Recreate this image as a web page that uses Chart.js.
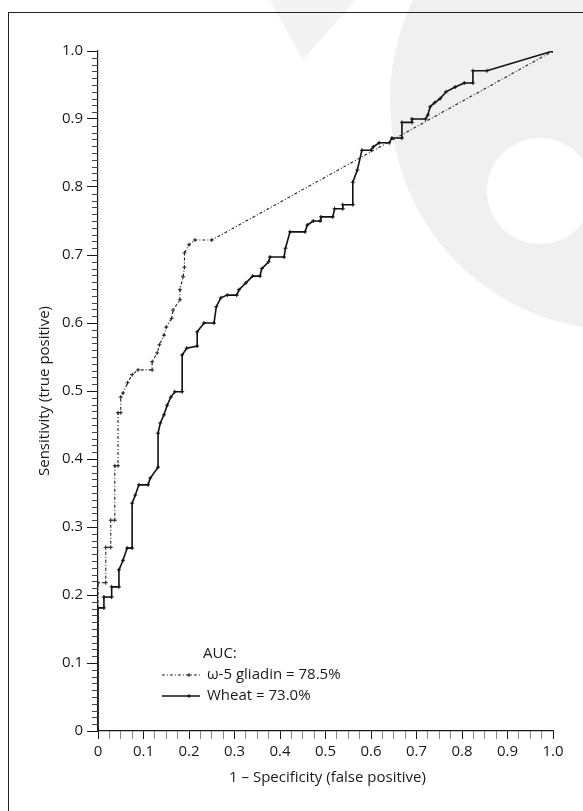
<!DOCTYPE html>
<html>
<head>
<meta charset="utf-8">
<script src="https://cdn.jsdelivr.net/npm/chart.js@4/dist/chart.umd.min.js"></script>
<style>
  html, body { margin: 0; padding: 0; background: #fff; }
  #wrap { position: relative; width: 583px; height: 811px; overflow: hidden; }
  .shade { position: absolute; background: #f0f0f0; }
  #frame { position: absolute; left: 8px; top: 12px; width: 620px; height: 840px;
           border-left: 1.5px solid #222; border-top: 1.5px solid #222; }
  canvas { position: absolute; left: 0; top: 0; }
</style>
</head>
<body>
<div id="wrap">
  <!-- grey stipple left over from the scan -->
  <div class="shade" style="left:390px;top:-130px;width:460px;height:460px;border-radius:50%;"></div>
  <div class="shade" style="left:487px;top:138px;width:106px;height:106px;border-radius:50%;background:#fff;"></div>
  <div class="shade" style="left:270px;top:0;width:86px;height:60px;clip-path:polygon(0 0,100% 0,38% 100%);background:#f3f3f3;"></div>
  <div id="frame"></div>
  <canvas id="chart" width="583" height="811"></canvas>
</div>
<script>
// ROC points (1 - specificity, sensitivity)
const gliadinFpr = [0, 0, 0.017, 0.017, 0.028, 0.028, 0.037, 0.037, 0.044, 0.044, 0.05, 0.05, 0.055, 0.065, 0.075, 0.088, 0.119, 0.119, 0.13, 0.135, 0.145, 0.15, 0.162, 0.165, 0.18, 0.18, 0.187, 0.19, 0.19, 0.2, 0.213, 0.25, 1.0];
const gliadinTpr = [0, 0.218, 0.218, 0.27, 0.27, 0.31, 0.31, 0.39, 0.39, 0.468, 0.468, 0.491, 0.497, 0.512, 0.524, 0.531, 0.531, 0.543, 0.556, 0.568, 0.582, 0.594, 0.607, 0.619, 0.634, 0.649, 0.668, 0.682, 0.703, 0.715, 0.722, 0.722, 1.0];

const wheatFpr = [0, 0, 0.013, 0.013, 0.03, 0.03, 0.046, 0.046, 0.055, 0.064, 0.075, 0.075, 0.082, 0.09, 0.11, 0.115, 0.132, 0.132, 0.137, 0.145, 0.152, 0.16, 0.169, 0.185, 0.185, 0.195, 0.218, 0.218, 0.233, 0.255, 0.26, 0.27, 0.284, 0.305, 0.31, 0.325, 0.34, 0.356, 0.36, 0.375, 0.378, 0.409, 0.412, 0.422, 0.455, 0.46, 0.473, 0.488, 0.49, 0.516, 0.52, 0.538, 0.538, 0.56, 0.56, 0.57, 0.58, 0.6, 0.605, 0.618, 0.64, 0.646, 0.668, 0.668, 0.69, 0.69, 0.72, 0.725, 0.73, 0.74, 0.752, 0.765, 0.785, 0.805, 0.824, 0.824, 0.855, 1.0];
const wheatTpr = [0, 0.181, 0.181, 0.197, 0.197, 0.212, 0.212, 0.237, 0.251, 0.269, 0.269, 0.335, 0.347, 0.362, 0.362, 0.372, 0.388, 0.438, 0.453, 0.465, 0.479, 0.491, 0.499, 0.499, 0.553, 0.563, 0.566, 0.587, 0.6, 0.6, 0.624, 0.637, 0.641, 0.641, 0.649, 0.659, 0.669, 0.669, 0.68, 0.69, 0.697, 0.697, 0.71, 0.734, 0.734, 0.744, 0.75, 0.75, 0.756, 0.756, 0.768, 0.768, 0.774, 0.774, 0.807, 0.825, 0.854, 0.854, 0.859, 0.865, 0.865, 0.872, 0.872, 0.895, 0.895, 0.9, 0.9, 0.906, 0.918, 0.924, 0.93, 0.94, 0.947, 0.953, 0.953, 0.971, 0.971, 1.0];

const seriesNames = ['ω-5 gliadin', 'Wheat'];
const aucValues = [78.5, 73.0];
const legendTitle = 'AUC:';

const xTickLabels = ['0', '0.1', '0.2', '0.3', '0.4', '0.5', '0.6', '0.7', '0.8', '0.9', '1.0'];
const yTickLabels = ['0', '0.1', '0.2', '0.3', '0.4', '0.5', '0.6', '0.7', '0.8', '0.9', '1.0'];
const xTitle = '1 – Specificity (false positive)';
const yTitle = 'Sensitivity (true positive)';

const FONT = '"Open Sans", "DejaVu Sans", sans-serif';
const FONT_SIZE = 15;
const INK = '#1a1a1a';

function toPoints(xs, ys) {
  return xs.map((v, i) => ({ x: v, y: ys[i] }));
}

function isMajor(v) {
  return Math.abs(v * 10 - Math.round(v * 10)) < 1e-6;
}

// minor ticks on y, axis titles and the AUC legend
const extras = {
  id: 'extras',
  afterDraw(chart) {
    const { ctx, scales: { x, y } } = chart;
    ctx.save();

    ctx.strokeStyle = '#444';
    ctx.lineWidth = 1;
    for (let i = 1; i < 100; i++) {
      if (i % 10 === 0) continue;
      const py = Math.round(y.getPixelForValue(i / 100)) + 0.5;
      ctx.beginPath();
      ctx.moveTo(x.left - 6, py);
      ctx.lineTo(x.left, py);
      ctx.stroke();
    }

    ctx.fillStyle = INK;
    ctx.font = FONT_SIZE + 'px ' + FONT;
    ctx.textAlign = 'center';
    ctx.textBaseline = 'middle';
    ctx.fillText(xTitle, (x.left + x.right) / 2 + 2, 778);

    ctx.save();
    ctx.translate(45, (y.top + y.bottom) / 2);
    ctx.rotate(-Math.PI / 2);
    ctx.fillText(yTitle, 0, 0);
    ctx.restore();

    // legend
    ctx.textAlign = 'left';
    ctx.fillText(legendTitle, 203, 654);
    chart.data.datasets.forEach((ds, i) => {
      const ly = 675 + i * 21;
      ctx.save();
      ctx.strokeStyle = ds.borderColor;
      ctx.lineWidth = ds.borderWidth;
      ctx.setLineDash(ds.borderDash || []);
      ctx.beginPath();
      ctx.moveTo(162, ly);
      ctx.lineTo(200, ly);
      ctx.stroke();
      ctx.setLineDash([]);
      const mx = 189;
      ctx.lineWidth = 1;
      ctx.beginPath();
      ctx.moveTo(mx - 2, ly); ctx.lineTo(mx + 2, ly);
      ctx.moveTo(mx, ly - 2); ctx.lineTo(mx, ly + 2);
      ctx.stroke();
      ctx.restore();
      ctx.fillText(`${seriesNames[i]} = ${aucValues[i].toFixed(1)}%`, 207, ly);
    });

    ctx.restore();
  }
};

const ctx = document.getElementById('chart').getContext('2d');
new Chart(ctx, {
  type: 'scatter',
  data: {
    datasets: [
      {
        label: seriesNames[0],
        data: toPoints(gliadinFpr, gliadinTpr),
        showLine: true,
        borderColor: '#222',
        borderWidth: 1.1,
        borderDash: [3, 2, 1, 2],
        pointStyle: 'cross',
        pointRadius: 2,
        pointBorderWidth: 1,
        pointBorderColor: '#222'
      },
      {
        label: seriesNames[1],
        data: toPoints(wheatFpr, wheatTpr),
        showLine: true,
        borderColor: '#111',
        borderWidth: 1.6,
        pointStyle: 'cross',
        pointRadius: 2,
        pointBorderWidth: 1,
        pointBorderColor: '#111'
      }
    ]
  },
  options: {
    responsive: false,
    devicePixelRatio: 1,
    animation: false,
    layout: { padding: { left: 0, top: 51, right: 30, bottom: 0 } },
    plugins: { legend: { display: false }, tooltip: { enabled: false } },
    scales: {
      x: {
        type: 'linear',
        min: 0,
        max: 1,
        afterFit: (s) => { s.height = 80; },
        border: { color: INK, width: 1.2 },
        grid: {
          drawOnChartArea: false,
          tickLength: 8,
          tickColor: (c) => isMajor(c.tick.value) ? INK : '#888'
        },
        ticks: {
          stepSize: 0.025,
          autoSkip: false,
          maxTicksLimit: 100,
          maxRotation: 0,
          padding: 4,
          color: INK,
          font: { family: FONT, size: FONT_SIZE },
          callback: (v) => isMajor(v) ? xTickLabels[Math.round(v * 10)] : ''
        }
      },
      y: {
        type: 'linear',
        min: 0,
        max: 1,
        afterFit: (s) => { s.width = 98; },
        border: { color: INK, width: 1.2 },
        grid: {
          drawOnChartArea: false,
          tickLength: 11,
          tickColor: INK
        },
        ticks: {
          stepSize: 0.1,
          autoSkip: false,
          padding: 4,
          color: INK,
          font: { family: FONT, size: FONT_SIZE },
          callback: (v) => yTickLabels[Math.round(v * 10)]
        }
      }
    }
  },
  plugins: [extras]
});
</script>
</body>
</html>
